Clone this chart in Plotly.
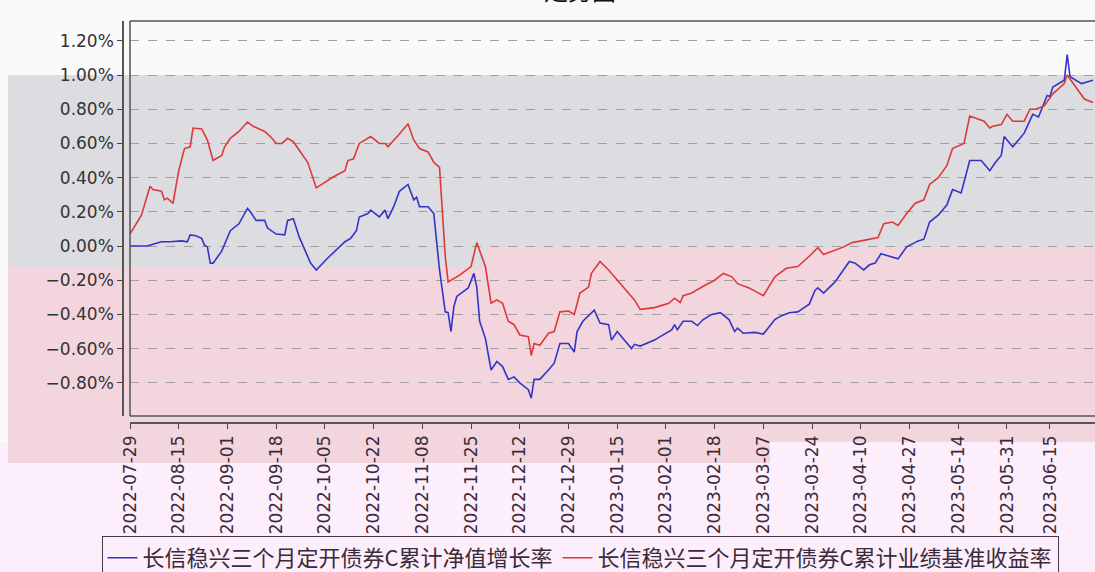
import plotly.graph_objects as go

# ---------------- data ----------------
red_name = "长信稳兴三个月定开债券C累计业绩基准收益率"
blue_name = "长信稳兴三个月定开债券C累计净值增长率"

red_dates = [
    "2022-07-29", "2022-08-02", "2022-08-05", "2022-08-06", "2022-08-09", "2022-08-10",
    "2022-08-11", "2022-08-13", "2022-08-15", "2022-08-17", "2022-08-19", "2022-08-20",
    "2022-08-23", "2022-08-25", "2022-08-27", "2022-08-30", "2022-08-31", "2022-09-02",
    "2022-09-05", "2022-09-08", "2022-09-10", "2022-09-14", "2022-09-16", "2022-09-18",
    "2022-09-20", "2022-09-22", "2022-09-24", "2022-09-29", "2022-10-02", "2022-10-08",
    "2022-10-12", "2022-10-13", "2022-10-15", "2022-10-17", "2022-10-21", "2022-10-24",
    "2022-10-26", "2022-10-27", "2022-10-31", "2022-11-03", "2022-11-05", "2022-11-07",
    "2022-11-10", "2022-11-12", "2022-11-14", "2022-11-15", "2022-11-16", "2022-11-17",
    "2022-11-21", "2022-11-25", "2022-11-27", "2022-11-30", "2022-12-02", "2022-12-04",
    "2022-12-06", "2022-12-08", "2022-12-10", "2022-12-12", "2022-12-15", "2022-12-16",
    "2022-12-17", "2022-12-19", "2022-12-22", "2022-12-24", "2022-12-26", "2022-12-29",
    "2022-12-31", "2023-01-02", "2023-01-05", "2023-01-06", "2023-01-09", "2023-01-12",
    "2023-01-15", "2023-01-17", "2023-01-21", "2023-01-23", "2023-01-28", "2023-01-30",
    "2023-02-02", "2023-02-04", "2023-02-06", "2023-02-07", "2023-02-10", "2023-02-14",
    "2023-02-18", "2023-02-21", "2023-02-24", "2023-02-26", "2023-03-02", "2023-03-07",
    "2023-03-11", "2023-03-15", "2023-03-19", "2023-03-23", "2023-03-26", "2023-03-28",
    "2023-04-04", "2023-04-07", "2023-04-12", "2023-04-16", "2023-04-18", "2023-04-21",
    "2023-04-23", "2023-04-26", "2023-04-29", "2023-05-02", "2023-05-04", "2023-05-07",
    "2023-05-10", "2023-05-12", "2023-05-16", "2023-05-18", "2023-05-23", "2023-05-25",
    "2023-05-26", "2023-05-29", "2023-05-31", "2023-06-02", "2023-06-06", "2023-06-08",
    "2023-06-10", "2023-06-13", "2023-06-16", "2023-06-20", "2023-06-21", "2023-06-24",
    "2023-06-27", "2023-06-30",
]
red_values = [
    0.07, 0.18, 0.35, 0.33, 0.32, 0.27,
    0.28, 0.25, 0.44, 0.57, 0.58, 0.69,
    0.685, 0.62, 0.50, 0.53, 0.58, 0.63,
    0.67, 0.725, 0.70, 0.67, 0.64, 0.60,
    0.60, 0.63, 0.61, 0.49, 0.34, 0.405,
    0.44, 0.50, 0.51, 0.60, 0.64, 0.60,
    0.60, 0.58, 0.655, 0.715, 0.62, 0.57,
    0.55, 0.49, 0.46, 0.17, -0.06, -0.21,
    -0.17, -0.12, 0.02, -0.12, -0.335, -0.315,
    -0.335, -0.44, -0.46, -0.52, -0.53, -0.64,
    -0.57, -0.58, -0.51, -0.50, -0.385, -0.38,
    -0.40, -0.275, -0.24, -0.16, -0.09, -0.14,
    -0.20, -0.24, -0.315, -0.37, -0.36, -0.35,
    -0.335, -0.305, -0.33, -0.29, -0.275, -0.235,
    -0.20, -0.16, -0.18, -0.22, -0.245, -0.29,
    -0.18, -0.13, -0.12, -0.06, -0.01, -0.05,
    -0.005, 0.02, 0.035, 0.05, 0.13, 0.14,
    0.12, 0.19, 0.25, 0.27, 0.36, 0.40,
    0.47, 0.57, 0.60, 0.76, 0.73, 0.69,
    0.70, 0.71, 0.77, 0.73, 0.73, 0.80,
    0.80, 0.82, 0.89, 0.95, 1.00, 0.93,
    0.86, 0.84,
]

blue_dates = [
    "2022-07-29", "2022-08-04", "2022-08-06", "2022-08-09", "2022-08-12", "2022-08-16",
    "2022-08-18", "2022-08-19", "2022-08-21", "2022-08-23", "2022-08-24", "2022-08-25",
    "2022-08-26", "2022-08-27", "2022-08-30", "2022-09-02", "2022-09-05", "2022-09-08",
    "2022-09-09", "2022-09-11", "2022-09-14", "2022-09-15", "2022-09-18", "2022-09-21",
    "2022-09-22", "2022-09-24", "2022-09-26", "2022-09-28", "2022-09-30", "2022-10-02",
    "2022-10-06", "2022-10-12", "2022-10-14", "2022-10-16", "2022-10-17", "2022-10-20",
    "2022-10-21", "2022-10-24", "2022-10-26", "2022-10-27", "2022-10-29", "2022-10-31",
    "2022-11-03", "2022-11-05", "2022-11-06", "2022-11-07", "2022-11-10", "2022-11-12",
    "2022-11-14", "2022-11-16", "2022-11-17", "2022-11-18", "2022-11-19", "2022-11-20",
    "2022-11-22", "2022-11-24", "2022-11-26", "2022-11-27", "2022-11-28", "2022-11-30",
    "2022-12-02", "2022-12-04", "2022-12-06", "2022-12-08", "2022-12-10", "2022-12-12",
    "2022-12-15", "2022-12-16", "2022-12-17", "2022-12-19", "2022-12-22", "2022-12-24",
    "2022-12-26", "2022-12-29", "2022-12-31", "2023-01-01", "2023-01-03", "2023-01-07",
    "2023-01-09", "2023-01-12", "2023-01-13", "2023-01-15", "2023-01-20", "2023-01-21",
    "2023-01-23", "2023-01-28", "2023-01-30", "2023-02-03", "2023-02-04", "2023-02-05",
    "2023-02-07", "2023-02-10", "2023-02-12", "2023-02-14", "2023-02-17", "2023-02-20",
    "2023-02-23", "2023-02-25", "2023-02-26", "2023-02-28", "2023-03-04", "2023-03-07",
    "2023-03-11", "2023-03-13", "2023-03-16", "2023-03-19", "2023-03-23", "2023-03-25",
    "2023-03-26", "2023-03-28", "2023-04-01", "2023-04-06", "2023-04-08", "2023-04-11",
    "2023-04-13", "2023-04-15", "2023-04-17", "2023-04-20", "2023-04-23", "2023-04-26",
    "2023-04-30", "2023-05-02", "2023-05-04", "2023-05-07", "2023-05-10", "2023-05-12",
    "2023-05-15", "2023-05-18", "2023-05-22", "2023-05-25", "2023-05-27", "2023-05-29",
    "2023-05-30", "2023-06-02", "2023-06-06", "2023-06-09", "2023-06-11", "2023-06-14",
    "2023-06-15", "2023-06-16", "2023-06-20", "2023-06-21", "2023-06-22", "2023-06-26",
    "2023-06-30",
]
blue_values = [
    0.00, 0.00, 0.01, 0.025, 0.025, 0.03,
    0.025, 0.065, 0.06, 0.045, 0.005, -0.005,
    -0.10, -0.10, -0.03, 0.09, 0.13, 0.22,
    0.20, 0.15, 0.15, 0.105, 0.07, 0.065,
    0.15, 0.16, 0.055, -0.025, -0.10, -0.14,
    -0.07, 0.025, 0.045, 0.09, 0.17, 0.19,
    0.21, 0.17, 0.21, 0.16, 0.23, 0.32,
    0.36, 0.27, 0.285, 0.23, 0.23, 0.19,
    -0.14, -0.385, -0.39, -0.50, -0.355, -0.295,
    -0.27, -0.245, -0.16, -0.24, -0.44, -0.54,
    -0.725, -0.675, -0.705, -0.78, -0.765, -0.80,
    -0.84, -0.89, -0.78, -0.78, -0.725, -0.685,
    -0.57, -0.57, -0.62, -0.50, -0.44, -0.375,
    -0.45, -0.46, -0.55, -0.50, -0.60, -0.575,
    -0.585, -0.55, -0.53, -0.49, -0.46, -0.49,
    -0.44, -0.44, -0.465, -0.43, -0.40, -0.39,
    -0.43, -0.50, -0.48, -0.51, -0.505, -0.515,
    -0.43, -0.41, -0.39, -0.385, -0.34, -0.26,
    -0.245, -0.275, -0.21, -0.09, -0.10, -0.14,
    -0.11, -0.10, -0.045, -0.06, -0.075, -0.005,
    0.03, 0.04, 0.14, 0.18, 0.24, 0.33,
    0.31, 0.50, 0.50, 0.44, 0.49, 0.53,
    0.64, 0.58, 0.66, 0.77, 0.755, 0.88,
    0.875, 0.93, 0.97, 1.12, 0.99, 0.95,
    0.97,
]

x_tick_dates = [
    "2022-07-29", "2022-08-15", "2022-09-01", "2022-09-18", "2022-10-05", "2022-10-22",
    "2022-11-08", "2022-11-25", "2022-12-12", "2022-12-29", "2023-01-15", "2023-02-01",
    "2023-02-18", "2023-03-07", "2023-03-24", "2023-04-10", "2023-04-27", "2023-05-14",
    "2023-05-31", "2023-06-15",
]
y_tick_values = [-0.8, -0.6, -0.4, -0.2, 0.0, 0.2, 0.4, 0.6, 0.8, 1.0, 1.2]
y_tick_labels = ["−0.80%", "−0.60%", "−0.40%", "−0.20%", "0.00%", "0.20%",
                 "0.40%", "0.60%", "0.80%", "1.00%", "1.20%"]
title_text = "走势图"

# ---------------- layout helpers ----------------
W, H = 1095, 572


def px(x):
    return x / W


def py(y):
    return 1 - y / H


fig = go.Figure()
fig.add_trace(go.Scatter(x=blue_dates, y=blue_values, mode="lines", name=blue_name,
                         line=dict(color="#3434c8", width=1.6)))
fig.add_trace(go.Scatter(x=red_dates, y=red_values, mode="lines", name=red_name,
                         line=dict(color="#dc3a3a", width=1.6)))

shapes = []


def rect(x0, y0, x1, y1, color):
    shapes.append(dict(type="rect", xref="paper", yref="paper",
                       x0=px(x0), x1=px(x1), y0=py(y1), y1=py(y0),
                       fillcolor=color, line=dict(width=0), layer="below"))


# background bands (mimicking the captured screen)
rect(0, 442, W, H, "#fdeefb")
rect(8, 247, 770, 463, "#f3d5de")
rect(770, 247, W, 442, "#f3d5de")
rect(8, 75, W, 247, "#dcdce1")
rect(8, 247, 487, 268, "#dcdce1")


def seg(x0, y0, x1, y1):
    shapes.append(dict(type="line", xref="paper", yref="paper",
                       x0=px(x0), x1=px(x1), y0=py(y0), y1=py(y1),
                       line=dict(color="#555555", width=1.5), layer="above"))


# plot frame
seg(130, 21, 130, 416)
seg(130, 21, W + 5, 21)
seg(130, 416, W + 5, 416)

fig.update_layout(
    width=W, height=H,
    margin=dict(l=0, r=0, t=0, b=0, pad=0, autoexpand=False),
    paper_bgcolor="#fafafa",
    plot_bgcolor="rgba(0,0,0,0)",
    shapes=shapes,
    showlegend=True,
    legend=dict(orientation="h", x=px(580), xanchor="center", y=py(536), yanchor="top",
                bordercolor="#4a3a4a", borderwidth=1, bgcolor="rgba(0,0,0,0)",
                font=dict(family="Noto Sans CJK SC", size=22, color="#3a2a3a"),
                itemwidth=30, tracegroupgap=0),
    xaxis=dict(
        type="date", domain=[px(130), 1.0], anchor="free", position=py(423),
        range=["2022-07-29", "2023-06-30 17:00:00"],
        tickvals=x_tick_dates, tickformat="%Y-%m-%d", tickangle=-90,
        ticks="outside", ticklen=5, tickcolor="#444444",
        showline=True, linecolor="#555555", linewidth=1.5,
        showgrid=False, zeroline=False, automargin=False,
        tickfont=dict(family="DejaVu Sans", size=17, color="#3a2a3a"),
    ),
    yaxis=dict(
        domain=[py(416), py(21)], anchor="free", position=px(123),
        range=[-0.994, 1.316],
        tickmode="array", tickvals=y_tick_values, ticktext=y_tick_labels,
        ticks="outside", ticklen=5, tickcolor="#444444",
        showline=True, linecolor="#555555", linewidth=1.5,
        showgrid=True, gridcolor="#a0a0a0", griddash="dash", gridwidth=1,
        zeroline=False, automargin=False,
        tickfont=dict(family="DejaVu Sans", size=17, color="#333333"),
    ),
    annotations=[dict(text=title_text, xref="paper", yref="paper", x=px(580), y=1.0,
                      xanchor="center", yanchor="bottom", yshift=-9, showarrow=False,
                      font=dict(family="Noto Sans CJK SC", size=24, color="#111111"))],
)

fig.write_html(
    "out.html",
    config={"displayModeBar": False},
    post_script="document.body.style.margin='0';document.body.style.overflow='hidden';",
)
